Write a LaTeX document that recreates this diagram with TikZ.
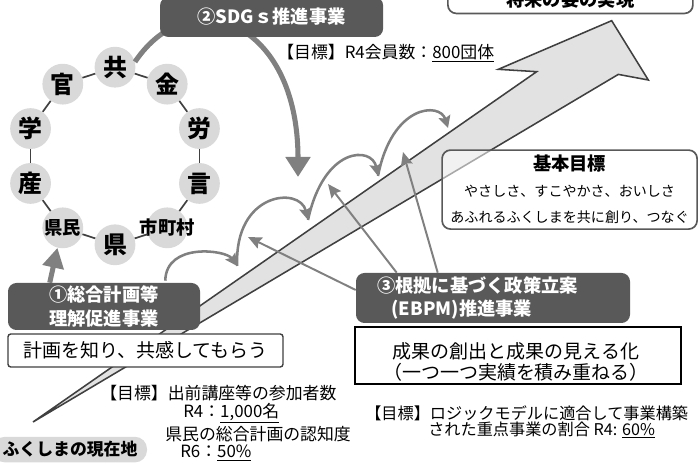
\documentclass[tikz,border=0pt]{standalone}
\usepackage{fontspec}
\setmainfont{Noto Sans CJK JP}
\usetikzlibrary{positioning, arrows.meta, calc}
\definecolor{boxdark}{RGB}{89,89,89}
\definecolor{ringgray}{RGB}{217,217,217}
\definecolor{wedgegray}{RGB}{226,226,226}
\definecolor{linegray}{RGB}{128,128,128}
\definecolor{edgedark}{RGB}{64,64,64}
\tikzset{
  darkbox/.style={fill=boxdark, text=white, rounded corners=6pt, inner sep=0pt, font=\fontsize{13}{16.5}\selectfont\bfseries},
  member/.style={circle, fill=ringgray, minimum size=1.02cm, inner sep=0pt, font=\fontsize{17}{17}\selectfont\bfseries},
  membersm/.style={member, font=\fontsize{13}{13}\selectfont\bfseries},
  ringlink/.style={edgedark, line width=1.2pt},
  fatarrow/.style={-{Triangle[length=5mm,width=6mm]}, linegray, line width=3.6pt},
  cloudarc/.style={-{Stealth[length=3mm,width=3mm,inset=0.5mm]}, linegray, line width=1.8pt},
  backarrow/.style={-{Stealth[length=3.4mm,width=3mm,inset=0.5mm]}, linegray, line width=1.4pt},
  goaltext/.style={anchor=west, inner sep=0pt, font=\fontsize{12}{14}\selectfont},
  msgbox/.style={draw=edgedark, line width=1pt, fill=white, font=\fontsize{13.5}{15}\selectfont}
}

\begin{document}
\begin{tikzpicture}
  \useasboundingbox (0,0) rectangle (17.45,11.6);
  \clip (0,0) rectangle (17.45,11.6);

  % the long arrow from today to the future
  \draw[fill=wedgegray, draw=edgedark, line width=1.1pt] (0.825,1.05) -- (13.417,9.808) -- (12.458,9.867)
       -- (15.292,11.083) -- (16.208,9.6) -- (15.458,9.74) -- cycle;

  \node[draw=boxdark, line width=1.2pt, rounded corners=6pt, fill=white, minimum width=6.125cm,
        minimum height=0.65cm, font=\fontsize{13}{13}\selectfont\bfseries] (vision) at (14.26,11.6) {将来の姿の実現};

  % ring of partners
  \coordinate (ringc) at (2.875,7.7);
  \foreach \lbl/\sty [count=\i] in {共/member, 金/member, 労/member, 言/member, 市町村/membersm,
                                     県/member, 県民/membersm, 産/member, 学/member, 官/member}
    \node[\sty] (m\i) at ($(ringc)+({90-36*(\i-1)}:2.22)$) {\makebox[0pt]{\lbl}};
  \foreach \i/\j in {1/2,2/3,3/4,4/5,5/6,6/7,7/8,8/9,9/10,10/1}
    \draw[ringlink] (m\i) -- (m\j);

  \coordinate (sdgstip) at (7.45,7.175);
  \draw[fatarrow] (m1.15) .. controls (4.75,12.1) and (7.45,11.1) .. (sdgstip);
  \node[darkbox, minimum width=5.575cm, minimum height=1.0cm] (sdgs) at (6.79,11.175) {②SDGｓ推進事業};
  \node[goaltext] (sdgsgoal) at (6.925,10.275) {【目標】R4会員数：\underline{800団体}};

  % step by step
  \node[darkbox, minimum width=4.8cm, minimum height=1.175cm, align=center] (plan) at (2.6,3.9375) {①総合計画等\\理解促進事業};
  \coordinate (k0) at ($(plan.north east)+(-0.875,0.05)$);
  \coordinate (k1) at (5.93,4.95);
  \coordinate (k2) at (7.7,6.1);
  \coordinate (k3) at (9.45,7.2);
  \coordinate (k4) at (11.2,8.4);
  \draw[cloudarc] (k0) .. controls (4.15,5.55) and (5.65,5.35) .. (k1);
  \draw[cloudarc] (k1) .. controls (5.85,6.8) and (7.5,6.95) .. (k2);
  \draw[cloudarc] (k2) .. controls (8.1,7.95) and (9.3,7.95) .. (k3);
  \draw[cloudarc] (k3) .. controls (9.8,9.0) and (11.0,9.05) .. (k4);

  \draw[fatarrow, -{Triangle[length=5mm,width=5.2mm]}] ($(plan.north west)+(1.05,0)$) -- (m7.255);
  \node[msgbox, rounded corners=2pt, minimum width=6.875cm, minimum height=0.825cm] (know) at (3.6375,2.8375) {計画を知り、共感してもらう};

  \node[goaltext] (g1) at (2.5,1.775) {【目標】出前講座等の参加者数};
  \node[goaltext] (g2) at (4.575,1.275) {R4：\underline{1,000名}};
  \node[goaltext] (g3) at (4.125,0.75) {県民の総合計画の認知度};
  \node[goaltext] (g4) at (4.5,0.275) {R6：\underline{50\%}};

  \node[fill=ringgray, rounded corners=0.3cm, minimum width=3.85cm, minimum height=0.625cm,
        font=\fontsize{12}{12}\selectfont\bfseries] (now) at (1.75,0.36) {ふくしまの現在地};

  % EBPM
  \node[darkbox, minimum width=6.85cm, minimum height=1.25cm, text width=5.8cm, align=left,
        inner xsep=0.525cm] (ebpm) at (12.325,4.15) {③根拠に基づく政策立案\\\hspace*{0.8em}(EBPM)推進事業};
  \coordinate (t1) at (6.2,5.675);
  \coordinate (t2) at (8.2,7.0);
  \coordinate (t3) at (10.075,7.8);
  \draw[backarrow] ([yshift=2mm]ebpm.west) -- (t1);
  \draw[backarrow] ($(ebpm.north west)+(1.025,0)$) -- (t2);
  \draw[backarrow] ($(ebpm.north west)+(2.05,0)$) -- (t3);

  \node[draw=black, line width=0.9pt, minimum width=8.15cm, minimum height=1.425cm] (result) at (12.95,2.7125) {};
  \node[align=center, inner sep=0pt, font=\fontsize{13.5}{15}\selectfont] (resulttxt) at (12.9,2.54)
       {成果の創出と成果の見える化\\（一つ一つ実績を積み重ねる）};
  \node[goaltext, font=\fontsize{11.5}{12}\selectfont] (g5) at (9.125,1.275) {【目標】ロジックモデルに適合して事業構築};
  \node[goaltext, font=\fontsize{11.5}{12}\selectfont] (g6) at (10.7,0.85) {された重点事業の割合 R4: \underline{60\%}};

  % basic goal
  \node[draw=boxdark, line width=1.2pt, rounded corners=6pt, fill=white, fill opacity=0.55, text opacity=1,
        minimum width=6.375cm, minimum height=1.975cm, align=center, font=\fontsize{10}{18.4}\selectfont] (basic) at (14.24,6.86)
       {{\fontsize{13}{18.4}\selectfont\bfseries 基本目標}\\やさしさ、すこやかさ、おいしさ\\あふれるふくしまを共に創り、つなぐ};
\end{tikzpicture}
\end{document}
